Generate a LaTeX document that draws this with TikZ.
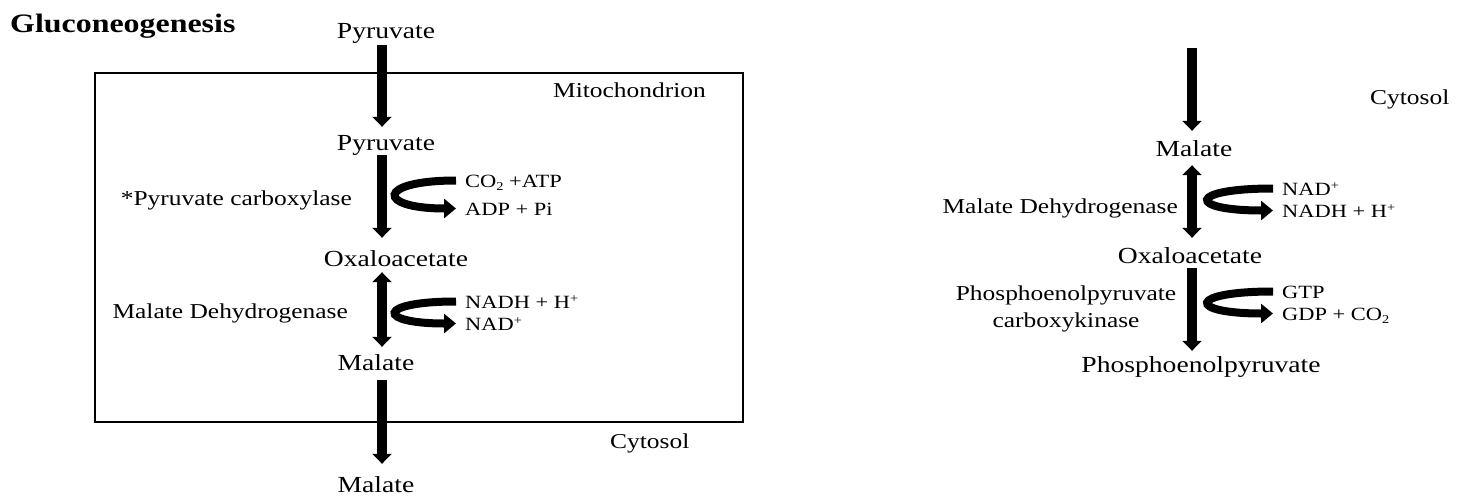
\documentclass[tikz,border=0pt]{standalone}
\usepackage{fontspec}
\setmainfont[FakeStretch=1.2]{Liberation Serif}
\usetikzlibrary{arrows.meta}

% lowered / raised small indices
\newcommand{\lowidx}[1]{\raisebox{-0.45ex}{\fontsize{12}{12}\selectfont #1}}
\newcommand{\highidx}[1]{\raisebox{0.6ex}{\fontsize{12}{12}\selectfont #1}}

\tikzset{
  met/.style={font=\fontsize{23}{26}\selectfont, inner sep=0pt,
              text height=16pt, text depth=5pt, anchor=base},
  lab/.style={font=\fontsize{21.2}{24}\selectfont, inner sep=0pt, anchor=base},
  cof/.style={font=\fontsize{18.7}{21}\selectfont, inner sep=0pt,
              text height=14pt, text depth=1pt, anchor=base west},
  flux/.style={line width=9.5pt, -{Triangle[width=19pt,length=10pt]}},
  revflux/.style={line width=9.5pt,
              {Triangle[width=19pt,length=10pt]}-{Triangle[width=19pt,length=10pt]}},
  cofarrow/.style={line width=8pt, -{Triangle[width=19pt,length=12pt]}},
  membrane/.style={line width=2.5pt},
}

\begin{document}
\begin{tikzpicture}[x=1pt,y=-1pt]
  \useasboundingbox (0,0) rectangle (1465,496);
  \fill[white] (0,0) rectangle (1465,496);

  % mitochondrial membrane
  \draw[membrane] (95,73) rectangle (743,422);

  % title and compartment labels
  \node[font=\fontsize{26.6}{30}\selectfont\bfseries, inner sep=0pt, anchor=base west]
    (title) at (10,32) {Gluconeogenesis};
  \node[lab, anchor=base west] (mito) at (553,97) {Mitochondrion};
  \node[lab, anchor=base west] (cytL) at (610,448) {Cytosol};
  \node[lab, anchor=base west] (cytR) at (1370,104) {Cytosol};

  % column x positions of the pathway arrows
  \coordinate (colL) at (382,0);
  \coordinate (colR) at (1192,0);

  % ---- left pathway: pyruvate into the mitochondrion ----
  \node[met] (pyrA) at (386,38) {Pyruvate};
  \node[met] (pyrB) at (386,150) {Pyruvate};
  \node[met] (oaaL) at (396,266) {Oxaloacetate};
  \node[met] (malA) at (376,370) {Malate};
  \node[met] (malB) at (376,492) {Malate};

  \node[lab, anchor=base east] (pc) at (352,205) {*Pyruvate carboxylase};
  \node[lab, anchor=base east] (mdhL) at (348,318) {Malate Dehydrogenase};

  \node[cof] (co2) at (465,187) {CO\lowidx{2} +ATP};
  \node[cof] (adp) at (465,215) {ADP + Pi};
  \node[cof] (nadhL) at (465,308) {NADH + H\highidx{+}};
  \node[cof] (nadL) at (465,330) {NAD\highidx{+}};

  \draw[flux, shorten <=2pt, shorten >=7pt] (pyrA.south -| colL) -- (pyrB.north -| colL);
  \draw[flux, shorten >=12pt] (pyrB.south -| colL) -- (oaaL.north -| colL);
  \draw[revflux, shorten <=1pt, shorten >=7pt] (oaaL.south -| colL) -- (malA.north -| colL);
  \draw[flux, shorten <=5pt, shorten >=12pt] (malA.south -| colL) -- (malB.north -| colL);

  \draw[cofarrow] ([xshift=-9pt]co2.west) .. controls +(-80,0) and +(-80,0) .. ([xshift=-9pt]adp.west);
  \draw[cofarrow] ([xshift=-9pt]nadhL.west) .. controls +(-80,0) and +(-80,0) .. ([xshift=-9pt]nadL.west);

  % ---- right pathway: cytosolic steps ----
  \coordinate (inflow) at (1192,48);
  \node[met] (malR) at (1194,156) {Malate};
  \node[met] (oaaR) at (1190,263) {Oxaloacetate};
  \node[met] (pep) at (1201,372) {Phosphoenolpyruvate};

  \node[lab, anchor=base east] (mdhR) at (1178,213) {Malate Dehydrogenase};
  \node[lab] (pepckA) at (1066,300) {Phosphoenolpyruvate};
  \node[lab] (pepckB) at (1066,327) {carboxykinase};

  \node[cof] (nadR) at (1282,195) {NAD\highidx{+}};
  \node[cof] (nadhR) at (1282,217) {NADH + H\highidx{+}};
  \node[cof] (gtp) at (1282,298) {GTP};
  \node[cof] (gdp) at (1282,320) {GDP + CO\lowidx{2}};

  \draw[flux, shorten >=9pt] (inflow) -- (malR.north -| colR);
  \draw[revflux, shorten <=4pt, shorten >=9pt] (malR.south -| colR) -- (oaaR.north -| colR);
  \draw[flux, shorten >=5pt] (oaaR.south -| colR) -- (pep.north -| colR);

  \draw[cofarrow] ([xshift=-9pt]nadR.west) .. controls +(-86,0) and +(-86,0) .. ([xshift=-9pt]nadhR.west);
  \draw[cofarrow] ([xshift=-9pt]gtp.west) .. controls +(-86,0) and +(-86,0) .. ([xshift=-9pt]gdp.west);
\end{tikzpicture}
\end{document}
